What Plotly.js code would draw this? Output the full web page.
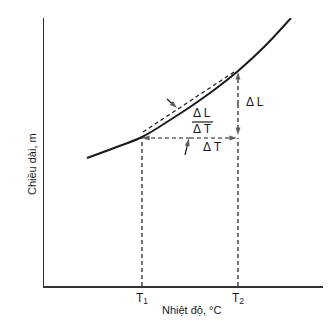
<!DOCTYPE html>
<html>
<head>
<meta charset="utf-8">
<script src="https://cdn.plot.ly/plotly-3.0.1.min.js"></script>
<style>html,body{margin:0;padding:0;background:#fff;}#chart{width:334px;height:322px;}</style>
</head>
<body>
<div id="chart"></div>
<script>
// Curve: length vs temperature (arbitrary units)
const curveX = [43, 70, 98, 126, 146, 170, 194, 220, 247];
const curveY = [128, 138, 149, 166, 179, 196, 215, 239, 268];
// Temperatures T1, T2 and lengths at them
const tempTicks = [98, 194];
const tempLabels = ['T<sub>1</sub>', 'T<sub>2</sub>'];
const lenAtT = [149, 215];
// Secant (chord) drawn just above the curve
const chordX = [99, 190];
const chordY = [154, 214];
// Pointer arrows: [tailX, tailY, headX, headY]
const pointerChord = [123, 187, 133, 178];
const pointerDT = [141, 131, 145, 147.5];

const ink = '#1a1a1a';
const dashLine = {color: ink, width: 1.2, dash: '4px,3px'};
const solidThin = {color: ink, width: 1.2};

function arrowTrace(xs, ys, line) {
  return {x: xs, y: ys, mode: 'lines+markers', line: line,
    marker: {symbol: 'arrow', size: [0, 8], angleref: 'previous', color: ink, line: {width: 0}},
    hoverinfo: 'skip'};
}

const yT = lenAtT[0] - 1;
const midT = (tempTicks[0] + tempTicks[1]) / 2;
const midL = (lenAtT[0] + lenAtT[1]) / 2;

const traces = [
  {x: curveX, y: curveY, mode: 'lines', line: {color: ink, width: 2, shape: 'spline'}, hoverinfo: 'skip'},
  {x: chordX, y: chordY, mode: 'lines', line: dashLine, hoverinfo: 'skip'},
  // ΔT double arrow
  arrowTrace([midT, tempTicks[0]], [yT, yT], dashLine),
  arrowTrace([midT, tempTicks[1] - 1], [yT, yT], dashLine),
  // ΔL double arrow
  arrowTrace([tempTicks[1], tempTicks[1]], [midL, lenAtT[1] - 1], dashLine),
  arrowTrace([tempTicks[1], tempTicks[1]], [midL, yT + 3], dashLine),
  // pointers
  arrowTrace([pointerChord[0], pointerChord[2]], [pointerChord[1], pointerChord[3]], solidThin),
  arrowTrace([pointerDT[0], pointerDT[2]], [pointerDT[1], pointerDT[3]], solidThin)
];

const shapes = [
  {type: 'line', x0: tempTicks[0], x1: tempTicks[0], y0: 0, y1: lenAtT[0], line: dashLine},
  {type: 'line', x0: tempTicks[1], x1: tempTicks[1], y0: 0, y1: yT, line: dashLine},
  // fraction bar
  {type: 'line', x0: 148, x1: 169, y0: 164, y1: 164, line: solidThin}
];

const annotations = [
  {x: 158, y: 173, xref: 'x', yref: 'y', text: 'Δ L', showarrow: false, font: {size: 12, color: ink}},
  {x: 158, y: 157, xref: 'x', yref: 'y', text: 'Δ T', showarrow: false, font: {size: 12, color: ink}},
  {x: 211, y: 184, xref: 'x', yref: 'y', text: 'Δ L', showarrow: false, font: {size: 12, color: ink}},
  {x: 168, y: 139, xref: 'x', yref: 'y', text: 'Δ T', showarrow: false, font: {size: 12, color: ink}},
  // axis titles
  {x: 0.530, y: -0.09, xref: 'paper', yref: 'paper', xanchor: 'center', yanchor: 'middle',
   text: 'Nhiệt độ, °C', showarrow: false, font: {size: 11, color: ink}},
  {x: -0.043, y: 0.455, xref: 'paper', yref: 'paper', xanchor: 'center', yanchor: 'middle', textangle: -90,
   text: 'Chiều dài, m', showarrow: false, font: {size: 11, color: ink}}
];

const layout = {
  width: 334, height: 322,
  margin: {l: 44, r: 11, t: 18, b: 36},
  paper_bgcolor: '#fff', plot_bgcolor: '#fff',
  showlegend: false,
  font: {family: 'Liberation Sans, Arial, sans-serif', color: ink, size: 11},
  xaxis: {
    range: [0, 279], showgrid: false, zeroline: false, showline: true, linecolor: '#333', linewidth: 1.5,
    tickmode: 'array', tickvals: tempTicks, ticktext: tempLabels, ticks: '', tickfont: {size: 12},
    fixedrange: true
  },
  yaxis: {
    range: [0, 268], showgrid: false, zeroline: false, showline: true, linecolor: '#333', linewidth: 1.5,
    showticklabels: false, ticks: '', fixedrange: true
  },
  shapes: shapes,
  annotations: annotations
};

Plotly.newPlot('chart', traces, layout, {displayModeBar: false, staticPlot: true});
</script>
</body>
</html>
